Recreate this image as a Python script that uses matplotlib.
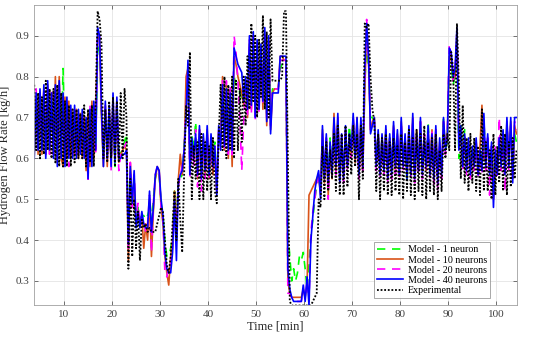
import numpy as np
import matplotlib
matplotlib.use('Agg')
import matplotlib.pyplot as plt

plt.rcParams['font.family'] = ['Liberation Serif', 'DejaVu Serif']

# sampling times [min], one sample every 0.4 min
time = np.linspace(3.8, 104.2, 252)

# each row = 2 minutes (5 samples)
exp_h2 = [
    0.78, 0.62, 0.76, 0.60, 0.75,  0.61, 0.79, 0.62, 0.77, 0.60,
    0.77, 0.59, 0.78, 0.58, 0.76,  0.58, 0.74, 0.58, 0.73, 0.58,
    0.72, 0.59, 0.72, 0.60, 0.71,  0.60, 0.73, 0.58, 0.72, 0.59,
    0.73, 0.58, 0.74, 0.96, 0.94,  0.88, 0.60, 0.72, 0.59, 0.74,
    0.60, 0.75, 0.58, 0.74, 0.59,  0.76, 0.60, 0.77, 0.70, 0.33,
    0.55, 0.36, 0.50, 0.38, 0.47,  0.35, 0.45, 0.43, 0.44, 0.42,
    0.43, 0.42, 0.42, 0.42, 0.44,  0.46, 0.48, 0.47, 0.40, 0.34,
    0.32, 0.36, 0.44, 0.52, 0.40,  0.55, 0.45, 0.37, 0.56, 0.73,
    0.68, 0.86, 0.50, 0.63, 0.55,  0.64, 0.50, 0.66, 0.50, 0.64,
    0.52, 0.63, 0.50, 0.65, 0.52,  0.49, 0.65, 0.78, 0.62, 0.80,
    0.60, 0.78, 0.62, 0.80, 0.60,  0.79, 0.62, 0.77, 0.64, 0.80,
    0.68, 0.85, 0.72, 0.93, 0.74,  0.90, 0.70, 0.89, 0.75, 0.95,
    0.72, 0.91, 0.70, 0.94, 0.79,  0.79, 0.79, 0.79, 0.79, 0.80,
    0.96, 0.96, 0.60, 0.25, 0.24,  0.24, 0.24, 0.24, 0.24, 0.24,
    0.24, 0.24, 0.24, 0.24, 0.24,  0.25, 0.26, 0.27, 0.50, 0.48,
    0.63, 0.50, 0.64, 0.52, 0.62,  0.55, 0.66, 0.52, 0.68, 0.51,
    0.66, 0.51, 0.68, 0.53, 0.66,  0.56, 0.68, 0.58, 0.66, 0.50,
    0.68, 0.55, 0.93, 0.92, 0.93,  0.80, 0.72, 0.69, 0.52, 0.66,
    0.50, 0.65, 0.52, 0.66, 0.51,  0.64, 0.51, 0.65, 0.52, 0.63,
    0.51, 0.66, 0.50, 0.64, 0.52,  0.67, 0.51, 0.65, 0.50, 0.67,
    0.52, 0.66, 0.51, 0.68, 0.50,  0.64, 0.52, 0.65, 0.51, 0.66,
    0.50, 0.62, 0.52, 0.66, 0.60,  0.66, 0.62, 0.86, 0.82, 0.62,
    0.93, 0.78, 0.55, 0.73, 0.54,  0.65, 0.52, 0.66, 0.54, 0.65,
    0.52, 0.63, 0.51, 0.72, 0.52,  0.64, 0.52, 0.62, 0.50, 0.66,
    0.51, 0.63, 0.54, 0.68, 0.52,  0.66, 0.51, 0.64, 0.53, 0.65,
    0.55, 0.62]

m40 = [
    0.60, 0.76, 0.62, 0.77, 0.62,  0.78, 0.60, 0.79, 0.62, 0.76,
    0.60, 0.78, 0.58, 0.79, 0.60,  0.76, 0.58, 0.75, 0.60, 0.73,
    0.60, 0.73, 0.60, 0.72, 0.61,  0.72, 0.60, 0.70, 0.55, 0.72,
    0.58, 0.74, 0.62, 0.92, 0.90,  0.72, 0.58, 0.74, 0.60, 0.73,
    0.58, 0.76, 0.59, 0.75, 0.60,  0.60, 0.61, 0.61, 0.62, 0.39,
    0.58, 0.49, 0.57, 0.43, 0.47,  0.43, 0.47, 0.44, 0.43, 0.43,
    0.52, 0.42, 0.48, 0.56, 0.58,  0.57, 0.50, 0.46, 0.37, 0.33,
    0.32, 0.32, 0.37, 0.50, 0.35,  0.54, 0.56, 0.57, 0.62, 0.70,
    0.84, 0.56, 0.65, 0.60, 0.66,  0.56, 0.68, 0.55, 0.66, 0.57,
    0.68, 0.56, 0.66, 0.58, 0.63,  0.51, 0.68, 0.62, 0.78, 0.63,
    0.77, 0.62, 0.76, 0.62, 0.87,  0.85, 0.83, 0.82, 0.81, 0.74,
    0.80, 0.72, 0.90, 0.73, 0.91,  0.70, 0.89, 0.72, 0.88, 0.74,
    0.92, 0.69, 0.90, 0.66, 0.76,  0.76, 0.76, 0.76, 0.85, 0.85,
    0.85, 0.85, 0.33, 0.28, 0.26,  0.25, 0.25, 0.25, 0.25, 0.25,
    0.29, 0.25, 0.31, 0.24, 0.40,  0.46, 0.52, 0.55, 0.57, 0.50,
    0.68, 0.55, 0.66, 0.54, 0.64,  0.56, 0.70, 0.58, 0.71, 0.54,
    0.66, 0.55, 0.68, 0.58, 0.66,  0.62, 0.71, 0.60, 0.70, 0.56,
    0.70, 0.58, 0.82, 0.93, 0.85,  0.66, 0.68, 0.70, 0.58, 0.67,
    0.56, 0.66, 0.57, 0.68, 0.55,  0.66, 0.56, 0.69, 0.58, 0.67,
    0.56, 0.70, 0.58, 0.66, 0.55,  0.68, 0.56, 0.71, 0.55, 0.66,
    0.57, 0.70, 0.56, 0.65, 0.58,  0.68, 0.56, 0.66, 0.55, 0.68,
    0.54, 0.65, 0.56, 0.70, 0.62,  0.65, 0.87, 0.86, 0.80, 0.82,
    0.92, 0.62, 0.68, 0.58, 0.66,  0.57, 0.65, 0.56, 0.63, 0.58,
    0.65, 0.56, 0.62, 0.57, 0.71,  0.58, 0.66, 0.56, 0.64, 0.48,
    0.62, 0.56, 0.65, 0.58, 0.67,  0.56, 0.70, 0.58, 0.70, 0.54,
    0.70, 0.70]

m10 = [
    0.61, 0.75, 0.61, 0.76, 0.61,  0.77, 0.61, 0.78, 0.61, 0.75,
    0.61, 0.80, 0.59, 0.80, 0.60,  0.58, 0.75, 0.60, 0.74, 0.60,
    0.71, 0.61, 0.72, 0.60, 0.71,  0.60, 0.70, 0.57, 0.71, 0.58,
    0.74, 0.60, 0.73, 0.90, 0.89,  0.70, 0.58, 0.73, 0.58, 0.72,
    0.59, 0.74, 0.60, 0.73, 0.59,  0.61, 0.62, 0.63, 0.62, 0.35,
    0.59, 0.48, 0.55, 0.44, 0.46,  0.45, 0.46, 0.38, 0.44, 0.40,
    0.50, 0.36, 0.47, 0.55, 0.58,  0.57, 0.48, 0.44, 0.36, 0.32,
    0.29, 0.36, 0.40, 0.52, 0.42,  0.55, 0.61, 0.56, 0.60, 0.80,
    0.82, 0.58, 0.64, 0.61, 0.65,  0.55, 0.67, 0.56, 0.65, 0.56,
    0.67, 0.55, 0.65, 0.56, 0.62,  0.52, 0.67, 0.64, 0.80, 0.62,
    0.78, 0.60, 0.75, 0.58, 0.85,  0.83, 0.80, 0.78, 0.76, 0.73,
    0.79, 0.70, 0.88, 0.72, 0.90,  0.72, 0.87, 0.73, 0.86, 0.72,
    0.90, 0.68, 0.89, 0.67, 0.76,  0.77, 0.77, 0.77, 0.85, 0.85,
    0.84, 0.84, 0.30, 0.27, 0.26,  0.26, 0.26, 0.26, 0.26, 0.26,
    0.28, 0.26, 0.29, 0.51, 0.52,  0.53, 0.54, 0.55, 0.56, 0.51,
    0.67, 0.54, 0.65, 0.51, 0.63,  0.55, 0.71, 0.57, 0.70, 0.55,
    0.64, 0.56, 0.67, 0.59, 0.65,  0.61, 0.70, 0.59, 0.70, 0.55,
    0.69, 0.57, 0.76, 0.92, 0.84,  0.67, 0.69, 0.70, 0.59, 0.66,
    0.57, 0.65, 0.58, 0.67, 0.56,  0.65, 0.57, 0.68, 0.57, 0.66,
    0.57, 0.69, 0.59, 0.65, 0.56,  0.67, 0.57, 0.70, 0.56, 0.67,
    0.58, 0.69, 0.57, 0.66, 0.57,  0.67, 0.57, 0.67, 0.56, 0.67,
    0.55, 0.64, 0.57, 0.69, 0.63,  0.66, 0.85, 0.84, 0.81, 0.80,
    0.91, 0.66, 0.67, 0.59, 0.65,  0.58, 0.64, 0.57, 0.62, 0.59,
    0.64, 0.57, 0.63, 0.73, 0.60,  0.59, 0.65, 0.57, 0.63, 0.50,
    0.61, 0.57, 0.64, 0.59, 0.66,  0.57, 0.69, 0.59, 0.69, 0.55,
    0.68, 0.66]

m20 = [
    0.62, 0.77, 0.63, 0.76, 0.63,  0.77, 0.61, 0.78, 0.61, 0.77,
    0.61, 0.77, 0.60, 0.78, 0.61,  0.75, 0.59, 0.74, 0.58, 0.72,
    0.61, 0.72, 0.61, 0.71, 0.62,  0.71, 0.61, 0.69, 0.54, 0.73,
    0.59, 0.73, 0.61, 0.91, 0.90,  0.73, 0.59, 0.73, 0.61, 0.72,
    0.57, 0.75, 0.60, 0.74, 0.57,  0.61, 0.62, 0.63, 0.64, 0.38,
    0.59, 0.48, 0.56, 0.45, 0.49,  0.44, 0.46, 0.45, 0.42, 0.44,
    0.51, 0.37, 0.49, 0.56, 0.58,  0.57, 0.48, 0.45, 0.32, 0.31,
    0.34, 0.34, 0.38, 0.48, 0.41,  0.53, 0.56, 0.58, 0.62, 0.72,
    0.83, 0.55, 0.64, 0.58, 0.67,  0.53, 0.67, 0.52, 0.65, 0.55,
    0.67, 0.55, 0.65, 0.57, 0.63,  0.52, 0.67, 0.63, 0.79, 0.62,
    0.79, 0.61, 0.78, 0.60, 0.90,  0.86, 0.79, 0.70, 0.57, 0.69,
    0.78, 0.70, 0.89, 0.71, 0.90,  0.69, 0.88, 0.71, 0.87, 0.73,
    0.91, 0.70, 0.89, 0.68, 0.77,  0.77, 0.77, 0.77, 0.84, 0.84,
    0.84, 0.84, 0.27, 0.27, 0.26,  0.25, 0.25, 0.25, 0.25, 0.25,
    0.28, 0.26, 0.30, 0.25, 0.42,  0.47, 0.50, 0.54, 0.55, 0.52,
    0.66, 0.56, 0.65, 0.50, 0.63,  0.57, 0.69, 0.56, 0.70, 0.56,
    0.65, 0.54, 0.67, 0.57, 0.65,  0.60, 0.70, 0.61, 0.69, 0.55,
    0.69, 0.56, 0.80, 0.94, 0.84,  0.67, 0.67, 0.69, 0.57, 0.66,
    0.55, 0.65, 0.56, 0.67, 0.54,  0.65, 0.55, 0.68, 0.56, 0.66,
    0.55, 0.69, 0.57, 0.65, 0.56,  0.67, 0.55, 0.70, 0.54, 0.65,
    0.56, 0.69, 0.55, 0.66, 0.57,  0.67, 0.55, 0.67, 0.53, 0.67,
    0.52, 0.64, 0.55, 0.69, 0.61,  0.66, 0.88, 0.85, 0.79, 0.81,
    0.91, 0.63, 0.67, 0.57, 0.65,  0.56, 0.64, 0.55, 0.62, 0.57,
    0.64, 0.55, 0.61, 0.56, 0.70,  0.57, 0.65, 0.51, 0.63, 0.50,
    0.63, 0.55, 0.70, 0.57, 0.66,  0.52, 0.69, 0.57, 0.69, 0.55,
    0.69, 0.67]

m1 = [
    0.63, 0.75, 0.63, 0.75, 0.63,  0.76, 0.62, 0.77, 0.62, 0.76,
    0.62, 0.76, 0.61, 0.77, 0.62,  0.82, 0.60, 0.73, 0.61, 0.72,
    0.62, 0.71, 0.62, 0.70, 0.62,  0.70, 0.62, 0.68, 0.58, 0.71,
    0.60, 0.72, 0.63, 0.86, 0.88,  0.72, 0.60, 0.72, 0.62, 0.71,
    0.60, 0.73, 0.58, 0.73, 0.60,  0.62, 0.63, 0.64, 0.66, 0.42,
    0.56, 0.49, 0.54, 0.46, 0.48,  0.45, 0.46, 0.46, 0.45, 0.46,
    0.48, 0.45, 0.50, 0.55, 0.57,  0.56, 0.49, 0.46, 0.40, 0.36,
    0.36, 0.38, 0.41, 0.52, 0.43,  0.55, 0.55, 0.56, 0.63, 0.74,
    0.80, 0.60, 0.66, 0.62, 0.69,  0.58, 0.66, 0.56, 0.64, 0.58,
    0.66, 0.55, 0.64, 0.60, 0.64,  0.54, 0.66, 0.66, 0.76, 0.64,
    0.77, 0.65, 0.76, 0.66, 0.80,  0.78, 0.78, 0.76, 0.75, 0.74,
    0.77, 0.72, 0.86, 0.74, 0.87,  0.73, 0.86, 0.74, 0.85, 0.75,
    0.88, 0.71, 0.86, 0.70, 0.77,  0.77, 0.77, 0.77, 0.82, 0.83,
    0.83, 0.83, 0.42, 0.36, 0.30,  0.33, 0.30, 0.32, 0.36, 0.35,
    0.37, 0.33, 0.28, 0.34, 0.41,  0.45, 0.50, 0.53, 0.56, 0.52,
    0.64, 0.56, 0.64, 0.55, 0.65,  0.57, 0.68, 0.59, 0.69, 0.57,
    0.65, 0.57, 0.66, 0.60, 0.68,  0.62, 0.69, 0.61, 0.68, 0.58,
    0.68, 0.59, 0.78, 0.88, 0.82,  0.70, 0.70, 0.69, 0.60, 0.66,
    0.58, 0.65, 0.59, 0.66, 0.58,  0.65, 0.58, 0.67, 0.59, 0.65,
    0.58, 0.67, 0.60, 0.64, 0.54,  0.66, 0.56, 0.68, 0.57, 0.66,
    0.59, 0.68, 0.58, 0.65, 0.59,  0.69, 0.58, 0.66, 0.57, 0.66,
    0.57, 0.63, 0.58, 0.70, 0.62,  0.64, 0.82, 0.83, 0.78, 0.80,
    0.86, 0.60, 0.68, 0.60, 0.67,  0.59, 0.63, 0.58, 0.62, 0.60,
    0.63, 0.58, 0.62, 0.59, 0.69,  0.60, 0.64, 0.58, 0.62, 0.54,
    0.61, 0.58, 0.64, 0.60, 0.65,  0.58, 0.68, 0.60, 0.68, 0.56,
    0.66, 0.64]

fig = plt.figure(figsize=(5.5, 3.39), dpi=100)
ax = fig.add_axes([0.062, 0.100, 0.878, 0.885])

ax.plot(time, m1, color='#00ff00', ls=(0, (5, 4)), lw=1.2, label='Model - 1 neuron')
ax.plot(time, m10, color='#d95319', lw=1.2, label='Model - 10 neurons')
ax.plot(time, m20, color='#ff00ff', ls=(0, (5, 4)), lw=1.2, label='Model - 20 neurons')
ax.plot(time, m40, color='#0000ff', lw=1.2, label='Model - 40 neurons')
ax.plot(time, exp_h2, color='black', ls=(0, (1, 1)), lw=1.3, label='Experimental')

ax.set_xlim(3.77, 104.3)
ax.set_ylim(0.241, 0.975)
ax.set_xticks(np.arange(10, 101, 10))
ax.set_yticks([0.3, 0.4, 0.5, 0.6, 0.7, 0.8, 0.9])
ax.grid(True, color='#e4e4e4', lw=0.6)
ax.set_axisbelow(True)
ax.tick_params(direction='in', length=3, width=0.5, colors='#404040', labelsize=8,
               top=True, right=True)
for s in ax.spines.values():
    s.set_color('#a0a0a0')
    s.set_linewidth(0.6)

ax.set_xlabel('Time [min]', fontsize=9, labelpad=1, color='#262626')
ax.set_ylabel('Hydrogen Flow Rate [kg/h]', fontsize=9, labelpad=3, color='#262626')

leg = ax.legend(loc='lower right', bbox_to_anchor=(0.944, 0.023), fontsize=7.2,
                frameon=True, fancybox=False, borderaxespad=0, handlelength=2.6,
                labelspacing=0.12, borderpad=0.3, handletextpad=0.5)
leg.get_frame().set_edgecolor('#808080')
leg.get_frame().set_linewidth(0.6)

fig.savefig('out.png', dpi=100)
